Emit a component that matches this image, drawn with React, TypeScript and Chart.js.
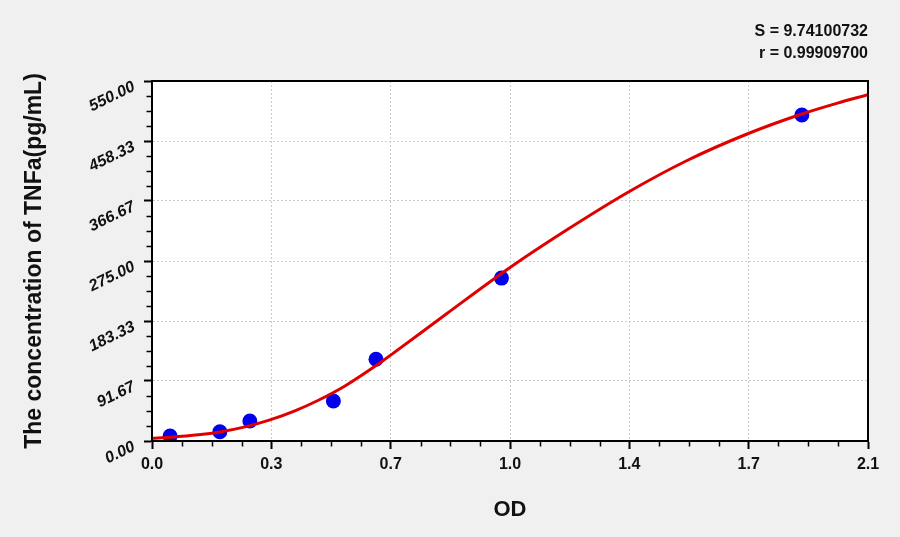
import React, { useEffect, useRef } from "react";
import { Chart, registerables } from "chart.js";

Chart.register(...registerables);

const xTickValues = [0, 0.35, 0.7, 1.05, 1.4, 1.75, 2.1];
const xTickLabels = ["0.0", "0.3", "0.7", "1.0", "1.4", "1.7", "2.1"];
const yTickValues = [0, 91.67, 183.33, 275, 366.67, 458.33, 550];
const yTickLabels = ["0.00", "91.67", "183.33", "275.00", "366.67", "458.33", "550.00"];

const pointOD = [0.053, 0.199, 0.287, 0.532, 0.657, 1.025, 1.906];
const pointConc = [7.6, 14.2, 30.6, 61.1, 124.8, 248.9, 498.0];

const curveOD = [0, 0.053, 0.136, 0.199, 0.273, 0.346, 0.419, 0.488, 0.566, 0.669, 0.701, 0.864, 1.047, 1.216, 1.4, 1.568, 1.749, 1.906, 2.008, 2.1];
const curveConc = [4.1, 5.7, 9.4, 13.8, 21.6, 32.2, 46.1, 62.3, 84.1, 119.6, 131.6, 194.4, 264.0, 322.3, 381.2, 428.2, 469.8, 499.6, 515.9, 529.2];

const statLines = ["S = 9.74100732", "r = 0.99909700"];
const xTitle = "OD";
const yTitle = "The concentration of TNFa(pg/mL)";

const FONT = "'Liberation Sans', Arial, sans-serif";

const customPlugin = {
  id: "custom",
  beforeDraw(chart: any) {
    const { ctx, width, height, chartArea } = chart;
    ctx.save();
    ctx.fillStyle = "#f0f0f0";
    ctx.fillRect(0, 0, width, height);
    ctx.fillStyle = "#ffffff";
    ctx.fillRect(chartArea.left, chartArea.top, chartArea.right - chartArea.left, chartArea.bottom - chartArea.top);
    ctx.restore();
  },
  afterDraw(chart: any) {
    const { ctx, chartArea } = chart;
    const xs = chart.scales.x;
    const ys = chart.scales.y;
    ctx.save();
    // minor ticks
    ctx.strokeStyle = "#000";
    ctx.lineWidth = 1.5;
    ctx.beginPath();
    for (let i = 0; i < xTickValues.length - 1; i++) {
      const a = xTickValues[i];
      const b = xTickValues[i + 1];
      for (let k = 1; k < 4; k++) {
        const px = Math.round(xs.getPixelForValue(a + ((b - a) * k) / 4)) + 0.5;
        ctx.moveTo(px, chartArea.bottom);
        ctx.lineTo(px, chartArea.bottom + 5.5);
      }
    }
    for (let i = 0; i < yTickValues.length - 1; i++) {
      const a = yTickValues[i];
      const b = yTickValues[i + 1];
      for (let k = 1; k < 4; k++) {
        const py = Math.round(ys.getPixelForValue(a + ((b - a) * k) / 4)) + 0.5;
        ctx.moveTo(chartArea.left, py);
        ctx.lineTo(chartArea.left - 5.5, py);
      }
    }
    ctx.stroke();
    // frame
    ctx.lineWidth = 2;
    ctx.strokeRect(chartArea.left, chartArea.top, chartArea.right - chartArea.left, chartArea.bottom - chartArea.top);
    // rotated y labels
    ctx.fillStyle = "#111";
    ctx.font = `italic bold 16px ${FONT}`;
    ctx.textAlign = "right";
    ctx.textBaseline = "middle";
    yTickValues.forEach((v, i) => {
      const py = ys.getPixelForValue(v);
      ctx.save();
      ctx.translate(chartArea.left - 18, py + 5);
      ctx.rotate((-26 * Math.PI) / 180);
      ctx.fillText(yTickLabels[i], 0, 0);
      ctx.restore();
    });
    // stats
    ctx.font = `bold 16px ${FONT}`;
    ctx.textAlign = "right";
    ctx.fillStyle = "#111";
    ctx.fillText(statLines[0], chartArea.right, 32);
    ctx.fillText(statLines[1], chartArea.right, 54);
    ctx.restore();
  },
};

export default function App() {
  const ref = useRef<HTMLCanvasElement | null>(null);
  useEffect(() => {
    if (!ref.current) return;
    const chart = new Chart(ref.current, {
      type: "scatter",
      data: {
        datasets: [
          {
            label: "curve",
            data: curveOD.map((x, i) => ({ x, y: curveConc[i] })),
            showLine: true,
            borderColor: "#e00000",
            borderWidth: 3,
            pointRadius: 0,
            cubicInterpolationMode: "monotone",
            order: 0,
          } as any,
          {
            label: "points",
            data: pointOD.map((x, i) => ({ x, y: pointConc[i] })),
            backgroundColor: "#0000ee",
            borderColor: "#0000ee",
            pointRadius: 7.5,
            borderWidth: 0,
            order: 1,
          },
        ],
      },
      options: {
        animation: false,
        responsive: false,
        devicePixelRatio: 1,
        layout: { padding: { top: 81, right: 32, left: 0, bottom: 0 } },
        plugins: { legend: { display: false }, tooltip: { enabled: false } },
        scales: {
          x: {
            type: "linear",
            min: 0,
            max: 2.1,
            afterBuildTicks: (s: any) => {
              s.ticks = xTickValues.map((v) => ({ value: v }));
            },
            afterFit: (s: any) => {
              s.height = 96;
            },
            ticks: {
              autoSkip: false,
              maxRotation: 0,
              padding: 6,
              color: "#111",
              font: { family: FONT, size: 16, weight: "bold" },
              callback: (_v: any, i: number) => xTickLabels[i],
            },
            grid: {
              color: "#cccccc",
              lineWidth: 1,
              tickLength: 8,
              tickColor: "#000",
              tickWidth: 2,
              tickBorderDash: [],
            },
            border: { display: true, color: "#000", width: 2, dash: [2, 2] },
            title: {
              display: true,
              text: xTitle,
              color: "#111",
              font: { family: FONT, size: 22, weight: "bold" },
              padding: { top: 0, bottom: 14 },
            },
          },
          y: {
            type: "linear",
            min: 0,
            max: 550,
            afterBuildTicks: (s: any) => {
              s.ticks = yTickValues.map((v) => ({ value: v }));
            },
            afterFit: (s: any) => {
              s.width = 152;
            },
            ticks: { display: false },
            grid: {
              color: "#cccccc",
              lineWidth: 1,
              tickLength: 8,
              tickColor: "#000",
              tickWidth: 2,
              tickBorderDash: [],
            },
            border: { display: true, color: "#000", width: 2, dash: [2, 2] },
            title: {
              display: true,
              text: yTitle,
              color: "#111",
              font: { family: FONT, size: 23, weight: "bold" },
              padding: { top: 21, bottom: 0 },
            },
          },
        },
      },
      plugins: [customPlugin],
    } as any);
    return () => chart.destroy();
  }, []);
  return (
    <div style={{ position: "fixed", left: 0, top: 0, width: 900, height: 537, background: "#f0f0f0" }}>
      <canvas ref={ref} width={900} height={537} style={{ display: "block" }} />
    </div>
  );
}
